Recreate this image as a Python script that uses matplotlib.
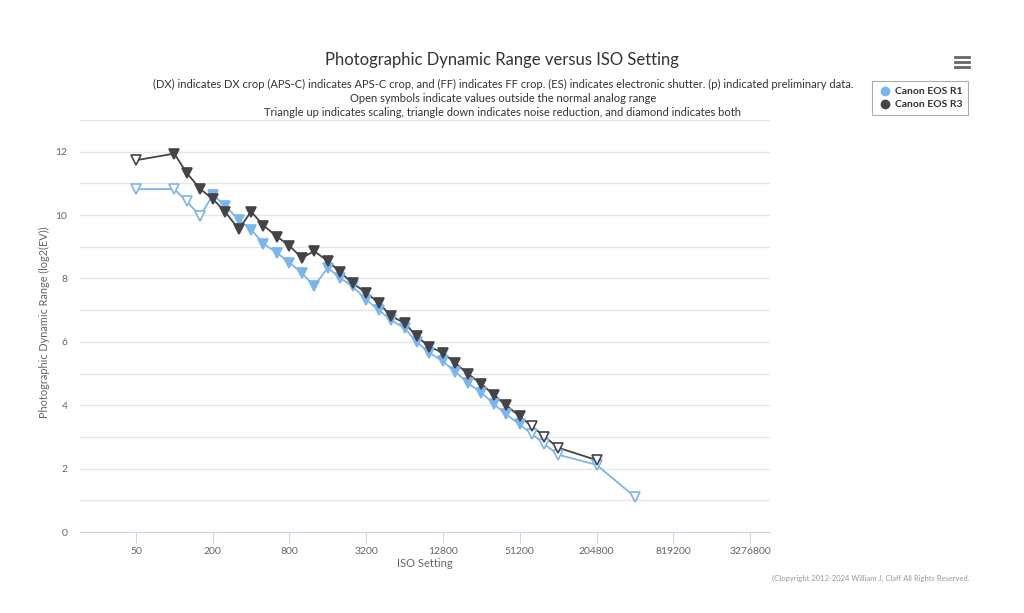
import matplotlib
matplotlib.use("Agg")
import matplotlib.pyplot as plt
from matplotlib.lines import Line2D

plt.rcParams["font.family"] = ["Lato", "DejaVu Sans"]

# ISO settings for each camera
iso_r3 = [50, 100, 125, 160, 200, 250, 320, 400, 500, 640, 800, 1000, 1250, 1600,
          2000, 2500, 3200, 4000, 5000, 6400, 8000, 10000, 12800, 16000, 20000,
          25600, 32000, 40000, 51200, 64000, 80000, 102400, 204800]
pdr_r3 = [11.73, 11.94, 11.33, 10.82, 10.51, 10.11, 9.55, 10.11, 9.67, 9.32, 9.03,
          8.65, 8.86, 8.55, 8.20, 7.85, 7.55, 7.23, 6.82, 6.59, 6.17, 5.85, 5.65,
          5.33, 5.00, 4.67, 4.33, 4.00, 3.65, 3.33, 3.01, 2.66, 2.27]
open_r3 = [True] + [False] * 28 + [True] * 4

iso_r1 = iso_r3 + [409600]
pdr_r1 = [10.82, 10.82, 10.43, 9.97, 10.64, 10.30, 9.85, 9.54, 9.10, 8.80, 8.50,
          8.17, 7.76, 8.34, 8.01, 7.75, 7.33, 7.01, 6.69, 6.43, 5.99, 5.66, 5.38,
          5.06, 4.70, 4.40, 4.04, 3.71, 3.40, 3.09, 2.77, 2.44, 2.12, 1.11]
open_r1 = [True] * 4 + [False] * 25 + [True] * 5

x_ticks = [50, 200, 800, 3200, 12800, 51200, 204800, 819200, 3276800]
y_ticks = list(range(0, 14))

blue = "#7cb5ec"
dark = "#434348"
grid_c = "#e6e6e6"
text_c = "#666666"

fig = plt.figure(figsize=(10.24, 6.13), dpi=100)
ax = fig.add_axes([80 / 1024, 1 - 532 / 613, 690 / 1024, 412 / 613])


def draw_series(iso, vals, opens, color):
    ax.plot(iso, vals, color=color, lw=1.3, zorder=2)
    for x, y, o in zip(iso, vals, opens):
        ax.plot(x, y, marker="v", ms=7.5, mec=color, mew=1.2,
                mfc="white" if o else color, ls="none", zorder=3)


draw_series(iso_r1, pdr_r1, open_r1, blue)
draw_series(iso_r3, pdr_r3, open_r3, dark)

ax.set_xscale("log", base=2)
ax.set_xlim(18.2, 4.7e6)
ax.set_ylim(0, 13)
ax.set_xticks(x_ticks)
ax.set_xticklabels([str(v) for v in x_ticks])
ax.minorticks_off()
ax.set_yticks(y_ticks)
ax.set_yticklabels([str(v) if v % 2 == 0 and v < 13 else "" for v in y_ticks])

ax.grid(axis="y", color=grid_c, lw=1)
ax.set_axisbelow(True)
for s in ["top", "right", "left"]:
    ax.spines[s].set_visible(False)
ax.spines["bottom"].set_color("#ccd6eb")
ax.tick_params(axis="y", length=0, labelsize=7.5, labelcolor=text_c, pad=9)
ax.tick_params(axis="x", length=8, color="#ccd6eb", labelsize=7.5,
               labelcolor=text_c, pad=3)

ax.set_xlabel("ISO Setting", fontsize=8, color=text_c, labelpad=1)
ax.set_ylabel("Photographic Dynamic Range (log2(EV))", fontsize=7.8,
              color=text_c, labelpad=8)
ax.yaxis.set_label_coords(-0.044, 0.51)

fig.text(0.49, 1 - 60 / 613, "Photographic Dynamic Range versus ISO Setting",
         ha="center", va="center", fontsize=12, color="#333333")
subtitle = ("(DX) indicates DX crop (APS-C) indicates APS-C crop, and (FF) indicates FF crop. "
            "(ES) indicates electronic shutter. (p) indicated preliminary data.\n"
            "Open symbols indicate values outside the normal analog range\n"
            "Triangle up indicates scaling, triangle down indicates noise reduction, "
            "and diamond indicates both")
fig.text(0.491, 1 - 98.5 / 613, subtitle, ha="center", va="center", fontsize=8.05,
         color="#333333", linespacing=1.32)

# legend
handles = [Line2D([], [], marker="o", ls="none", color=blue, ms=6),
           Line2D([], [], marker="o", ls="none", color=dark, ms=6)]
leg = fig.legend(handles, ["Canon EOS R1", "Canon EOS R3"],
                 loc="upper left", bbox_to_anchor=(867 / 1024, 1 - 76 / 613),
                 fontsize=7.5, frameon=True, handletextpad=0.3, borderpad=0.55,
                 labelspacing=0.35, handlelength=1.3, fancybox=False)
leg.get_frame().set_edgecolor("#999999")
leg.get_frame().set_linewidth(0.8)
for t in leg.get_texts():
    t.set_color("#333333")
    t.set_fontweight("bold")

# menu icon
for dy in (57, 62, 67):
    fig.add_artist(Line2D([955 / 1024, 969 / 1024], [1 - dy / 613, 1 - dy / 613],
                          color="#666666", lw=2))

fig.text(970 / 1024, 1 - 578 / 613,
         "(C)opyright 2012-2024 William J. Claff All Rights Reserved.",
         ha="right", va="center", fontsize=5.5, color="#999999")

fig.savefig("out.png", dpi=100, facecolor="white")
